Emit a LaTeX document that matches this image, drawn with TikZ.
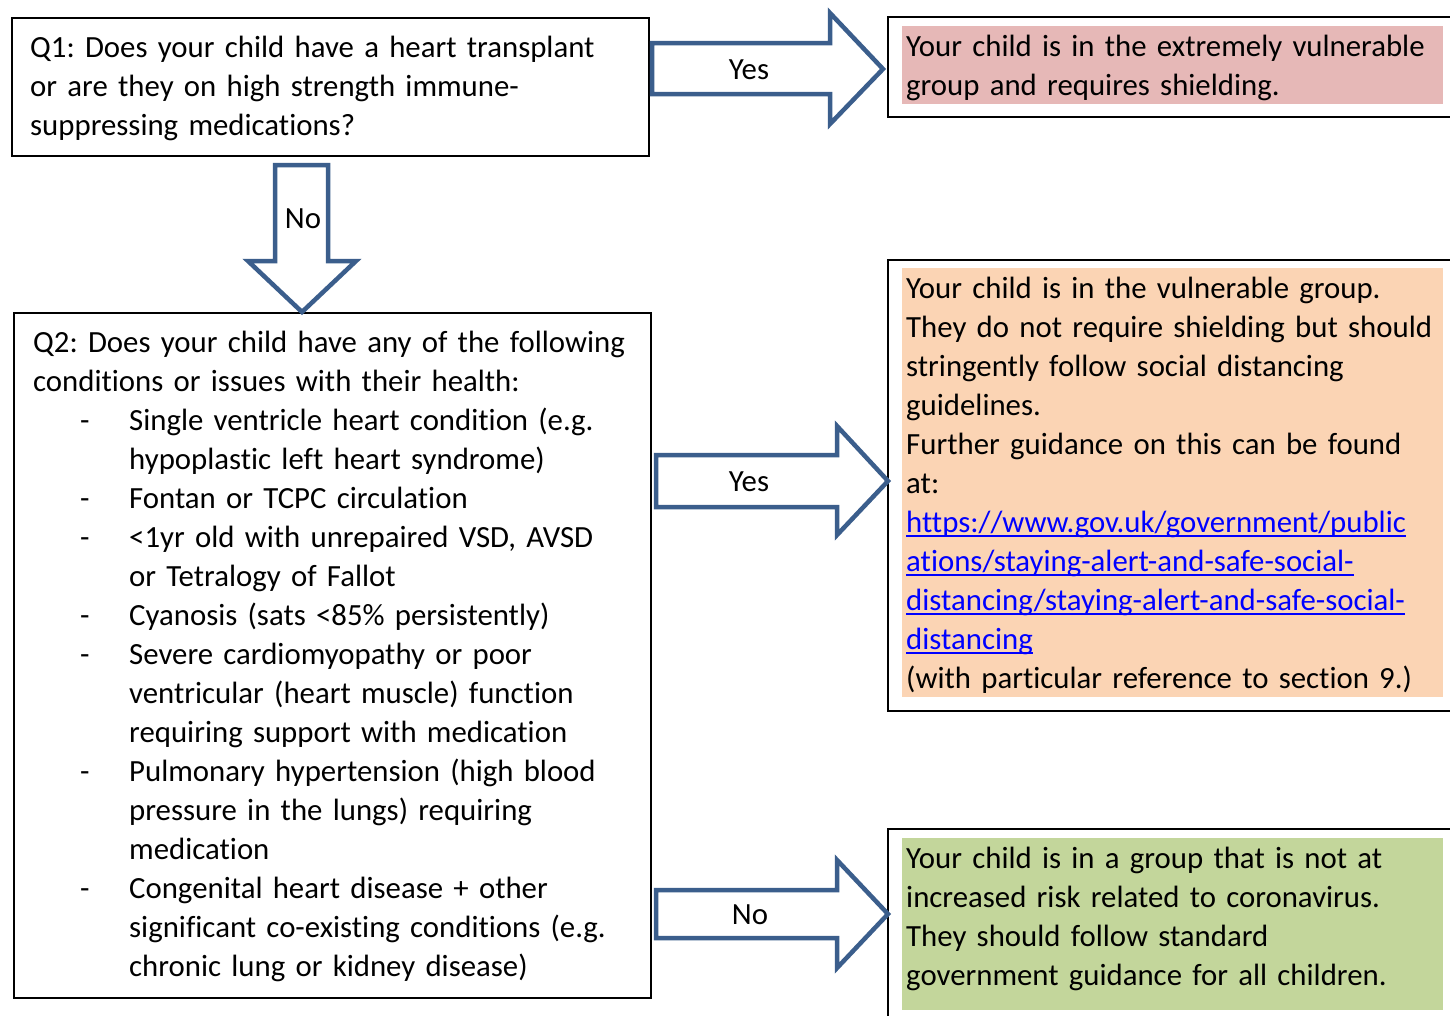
\documentclass[tikz,border=0pt]{standalone}
\usepackage{fontspec}
\setmainfont[Ligatures=NoCommon]{Carlito}
\frenchspacing
\hyphenpenalty=10000
\exhyphenpenalty=10000
\definecolor{arrowblue}{HTML}{3B5E8C}
\definecolor{pinkhl}{HTML}{E6B8B7}
\definecolor{peachhl}{HTML}{FBD4B4}
\definecolor{greenhl}{HTML}{C3D69B}
\definecolor{linkblue}{HTML}{0000FF}
\newcommand\firstln{\rule{0pt}{28pt}}
\newcommand\ulnk[1]{\textcolor{linkblue}{\setbox0\hbox{#1}\rlap{\rule[-5pt]{\wd0}{1.8pt}}\box0}}
\newcommand\bul{\hspace*{47pt}\makebox[49pt][l]{-}}
\newcommand\ind{\hspace*{96pt}}
\begin{document}
\begin{tikzpicture}[x=1pt,y=-1pt,
  boxline/.style={draw=black, line width=2pt},
  txt/.style={anchor=north west, inner sep=0pt, align=left, text width=#1,
    font=\fontsize{30.8}{39}\selectfont},
  blockarrow/.style={draw=arrowblue, line width=4.5pt, fill=white, line join=miter},
  lbl/.style={anchor=base, inner sep=0pt, font=\fontsize{30.8}{39}\selectfont}]
\clip (0,0) rectangle (1450,1015);
\fill[white] (0,0) rectangle (1450,1015);

% question boxes
\draw[boxline] (12,18) rectangle (649,156);
\draw[boxline] (14,313) rectangle (651,998);

% answer boxes (open to the right / bottom, beyond the page)
\draw[boxline] (1470,17) -- (888,17) -- (888,117) -- (1470,117);
\fill[pinkhl] (902,26) rectangle (1443,104);
\draw[boxline] (1470,260) -- (888,260) -- (888,711) -- (1470,711);
\fill[peachhl] (902,268) rectangle (1443,697);
\draw[boxline] (1470,829) -- (888,829) -- (888,1040);
\fill[greenhl] (902,838) rectangle (1443,1010);

% texts
\node[txt=700pt] (q1) at (30,29) {\firstln Q1: Does your child have a heart transplant\\
or are they on high strength immune-\\
suppressing medications?};

\node[txt=700pt] (q2) at (33,324) {\firstln Q2: Does your child have any of the following\\
conditions or issues with their health:\\
\bul Single ventricle heart condition (e.g.\\
\ind hypoplastic left heart syndrome)\\
\bul Fontan or TCPC circulation\\
\bul <1yr old with unrepaired VSD, AVSD\\
\ind or Tetralogy of Fallot\\
\bul Cyanosis (sats <85\% persistently)\\
\bul Severe cardiomyopathy or poor\\
\ind ventricular (heart muscle) function\\
\ind requiring support with medication\\
\bul Pulmonary hypertension (high blood\\
\ind pressure in the lungs) requiring\\
\ind medication\\
\bul Congenital heart disease + other\\
\ind significant co-existing conditions (e.g.\\
\ind chronic lung or kidney disease)};

\node[txt=700pt] (r1) at (906,28) {\firstln Your child is in the extremely vulnerable\\
group and requires shielding.};

\node[txt=700pt] (r2) at (906,270) {\firstln Your child is in the vulnerable group.\\
They do not require shielding but should\\
stringently follow social distancing\\
guidelines.\\
Further guidance on this can be found\\
at:\\
\ulnk{https://www.gov.uk/government/public}\\
\ulnk{ations/staying-alert-and-safe-social-}\\
\ulnk{distancing/staying-alert-and-safe-social-}\\
\ulnk{distancing}\\
(with particular reference to section 9.)};

\node[txt=700pt] (r3) at (906,840) {\firstln Your child is in a group that is not at\\
increased risk related to coronavirus.\\
They should follow standard\\
government guidance for all children.};

% block arrows
\draw[blockarrow] (652,43) -- (830,43) -- (830,13) -- (883,69) -- (830,124) -- (830,94) -- (652,94) -- cycle;
\node[lbl] (yes1) at (749,79) {Yes};

\draw[blockarrow] (275,165) -- (328,165) -- (328,261) -- (356,261) -- (302,312) -- (248,261) -- (275,261) -- cycle;
\node[lbl] (no1) at (303,228) {No};

\draw[blockarrow] (656,455) -- (837,455) -- (837,426) -- (888,481) -- (837,535) -- (837,507) -- (656,507) -- cycle;
\node[lbl] (yes2) at (749,491) {Yes};

\draw[blockarrow] (656,890) -- (837,890) -- (837,860) -- (888,914) -- (837,968) -- (837,938) -- (656,938) -- cycle;
\node[lbl] (no2) at (750,924) {No};
\end{tikzpicture}
\end{document}
